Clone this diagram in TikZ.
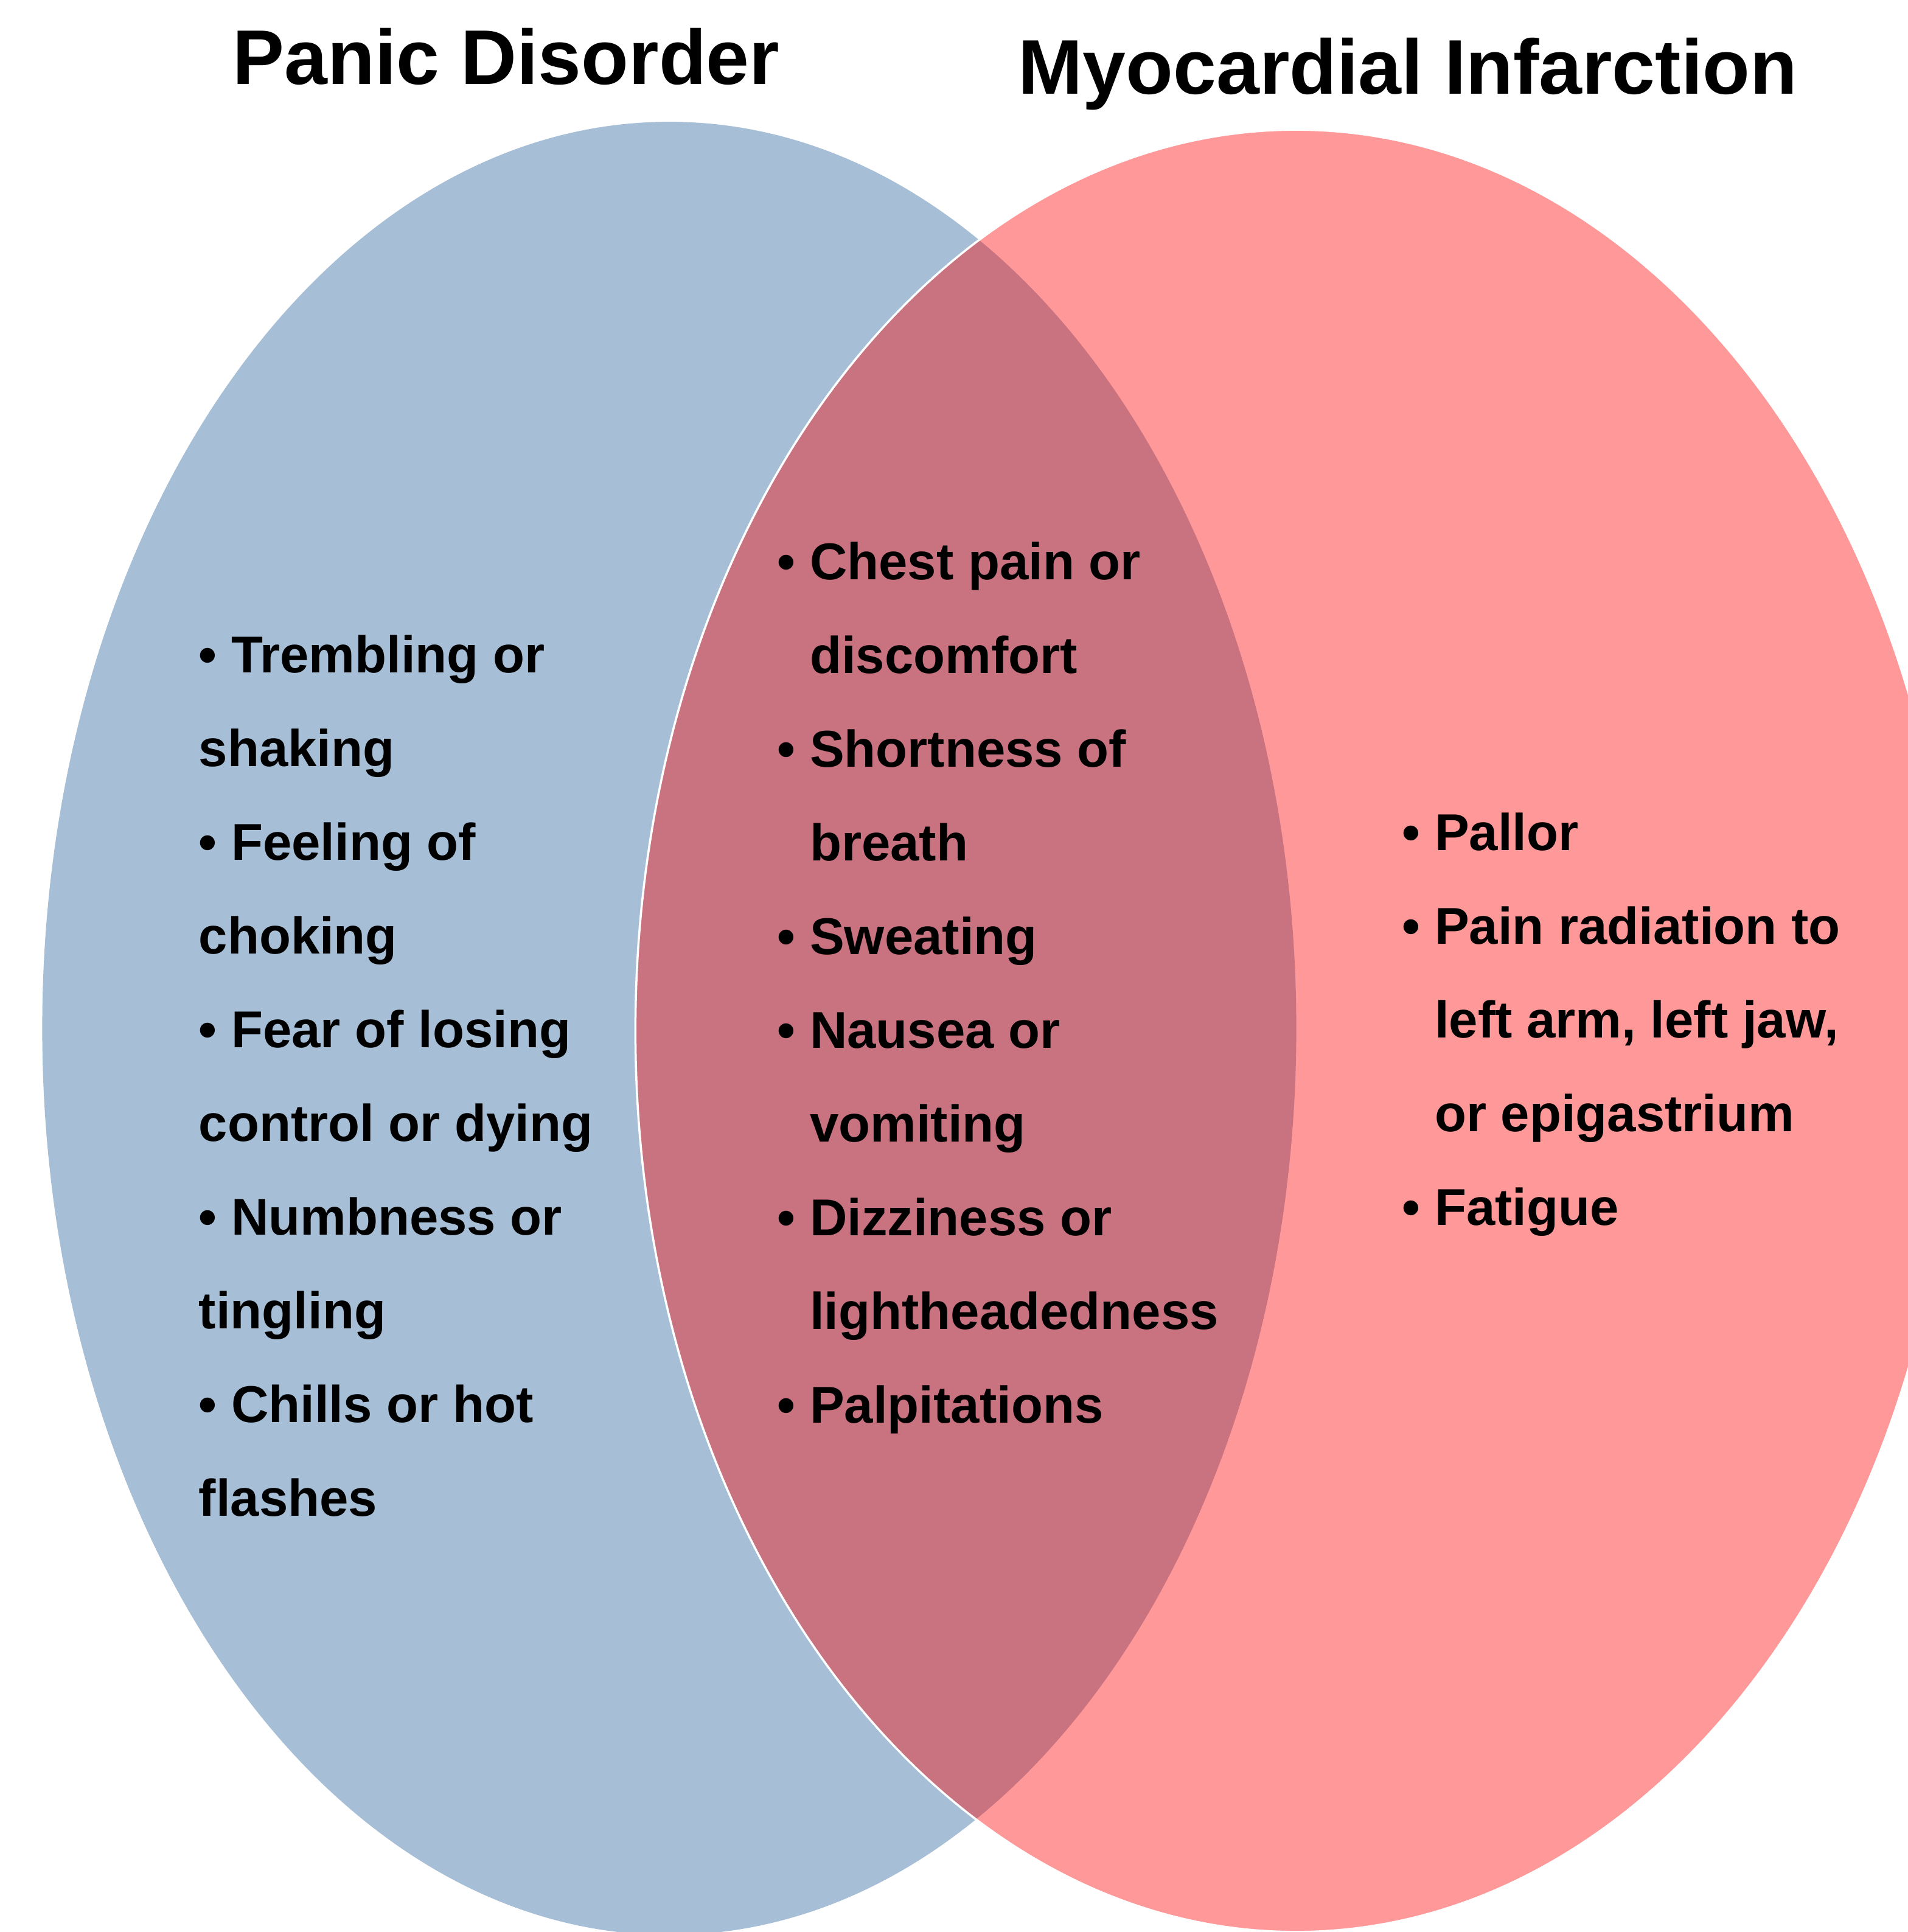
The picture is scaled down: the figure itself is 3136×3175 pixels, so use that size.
\documentclass[tikz,border=0pt]{standalone}
\usepackage{fontspec}
\setmainfont{Liberation Sans}
\usetikzlibrary{positioning}
\definecolor{PanicBlue}{RGB}{166,190,214}
\definecolor{HeartRed}{RGB}{255,0,0}
\newcommand{\symindent}{\hphantom{• }}
\tikzset{
  venntitle/.style={
    font=\fontsize{36.2}{43}\selectfont\bfseries,
    inner sep=0pt,
    anchor=base
  },
  vennlist/.style={
    font=\fontsize{24.2}{43.8}\selectfont\bfseries,
    align=left,
    inner sep=0pt,
    anchor=north west
  },
  panicset/.style={fill=PanicBlue},
  heartset/.style={
    fill=HeartRed,
    fill opacity=0.4,
    draw=white,
    line width=1pt
  }
}
\begin{document}
\begin{tikzpicture}[x=0.01cm,y=-0.01cm]
  \useasboundingbox (0,0) rectangle (3136,3175);
  \clip (0,0) rectangle (3136,3175);
  \fill[white] (0,0) rectangle (3136,3175);
  % the two sets
  \path[panicset] (1100,1690) ellipse [x radius=10.30cm, y radius=14.89cm];
  \path[heartset] (2130,1694) ellipse [x radius=10.85cm, y radius=14.80cm];
  \node[venntitle] (panic) at (832,138) {Panic Disorder};
  \node[venntitle] (heart) at (2314,154) {Myocardial Infarction};
  % symptoms
  \node[vennlist] (panicsym) at (326,1043) {• Trembling or\\shaking\\• Feeling of\\choking\\• Fear of losing\\control or dying\\• Numbness or\\tingling\\• Chills or hot\\flashes};
  \node[vennlist] (sharedsym) at (1277,890) {• Chest pain or\\\symindent discomfort\\• Shortness of\\\symindent breath\\• Sweating\\• Nausea or\\\symindent vomiting\\• Dizziness or\\\symindent lightheadedness\\• Palpitations};
  \node[vennlist] (heartsym) at (2304,1335) {• Pallor\\• Pain radiation to\\\symindent left arm, left jaw,\\\symindent or epigastrium\\• Fatigue};
\end{tikzpicture}
\end{document}
